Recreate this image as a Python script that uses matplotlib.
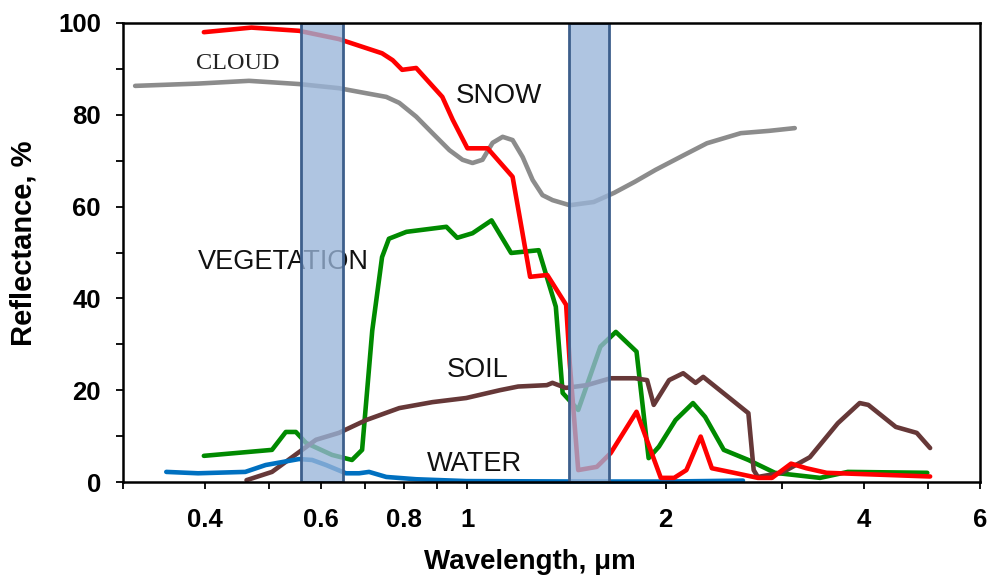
import matplotlib
matplotlib.use("Agg")
import matplotlib.pyplot as plt
from matplotlib.ticker import FixedLocator, NullLocator

# ---------------- data ----------------
cloud_wl = [0.313, 0.39, 0.466, 0.555, 0.638, 0.702, 0.753, 0.788, 0.836, 0.885, 0.939,
            0.983, 1.018, 1.054, 1.092, 1.131, 1.171, 1.213, 1.256, 1.30, 1.347, 1.43,
            1.555, 1.67, 1.795, 1.93, 2.13, 2.31, 2.6, 2.87, 3.14]
cloud_r = [86.3, 86.8, 87.4, 86.7, 85.8, 84.7, 83.9, 82.6, 79.6, 76.0, 72.3,
           70.2, 69.5, 70.2, 73.9, 75.2, 74.5, 70.8, 65.8, 62.5, 61.4, 60.3,
           61.0, 63.0, 65.4, 68.0, 71.2, 73.8, 76.0, 76.5, 77.1]

snow_wl = [0.398, 0.47, 0.555, 0.638, 0.742, 0.77, 0.796, 0.836, 0.916, 0.95, 1.0, 1.073,
           1.171, 1.21, 1.245, 1.322, 1.412, 1.43, 1.473, 1.572, 1.65, 1.806, 1.966,
           2.06, 2.15, 2.26, 2.35, 2.54, 2.76, 2.9, 3.1, 3.27, 3.51, 5.04]
snow_r = [98.0, 99.0, 98.3, 96.5, 93.4, 91.9, 89.8, 90.2, 83.9, 78.9, 72.7, 72.7,
          66.5, 54.9, 44.7, 45.1, 38.6, 25.9, 2.6, 3.3, 6.3, 15.3, 0.9,
          0.9, 2.6, 9.9, 3.0, 2.0, 0.9, 0.9, 4.0, 3.0, 2.0, 1.2]

veg_wl = [0.398, 0.505, 0.53, 0.549, 0.569, 0.623, 0.668, 0.692, 0.717, 0.742, 0.76,
          0.808, 0.929, 0.965, 1.018, 1.088, 1.165, 1.283, 1.362, 1.395, 1.473, 1.592,
          1.68, 1.806, 1.884, 1.953, 2.07, 2.2, 2.295, 2.45, 2.67, 2.93, 3.43, 3.78, 4.99]
veg_r = [5.7, 7.0, 10.9, 10.9, 8.5, 5.9, 4.8, 7.0, 33.0, 49.0, 53.0,
         54.5, 55.6, 53.2, 54.2, 57.0, 49.9, 50.5, 38.2, 19.4, 15.7, 29.5,
         32.7, 28.4, 5.2, 7.7, 13.5, 17.2, 14.2, 7.0, 4.8, 2.0, 0.9, 2.2, 2.0]

soil_wl = [0.462, 0.505, 0.555, 0.589, 0.638, 0.702, 0.788, 0.885, 0.996, 1.12, 1.194,
           1.32, 1.346, 1.41, 1.518, 1.65, 1.796, 1.874, 1.918, 2.024, 2.126, 2.22,
           2.28, 2.52, 2.67, 2.72, 2.76, 3.0, 3.31, 3.65, 3.94, 4.06, 4.47, 4.81, 5.04]
soil_r = [0.4, 2.2, 6.5, 9.2, 10.7, 13.5, 16.1, 17.4, 18.3, 20.0, 20.8,
          21.1, 21.6, 20.5, 21.1, 22.6, 22.6, 22.2, 16.8, 22.2, 23.7, 21.6,
          22.9, 17.9, 15.0, 2.6, 1.1, 2.0, 5.4, 12.8, 17.2, 16.8, 12.0, 10.7, 7.4]

water_wl = [0.349, 0.39, 0.46, 0.494, 0.555, 0.581, 0.61, 0.654, 0.685, 0.709, 0.753,
            0.836, 0.996, 1.5, 2.0, 2.62]
water_r = [2.2, 1.9, 2.2, 3.7, 5.0, 4.8, 3.7, 1.9, 1.9, 2.2, 1.1,
           0.6, 0.2, 0.1, 0.1, 0.3]

bands = [(0.559, 0.647), (1.425, 1.64)]

x_ticks = [0.3, 0.4, 0.5, 0.6, 0.7, 0.8, 0.9, 1, 2, 3, 4, 5, 6]
x_ticklabels = ["", "0.4", "", "0.6", "", "0.8", "", "1", "2", "", "4", "", "6"]
y_ticks = [0, 10, 20, 30, 40, 50, 60, 70, 80, 90, 100]
y_ticklabels = ["0", "", "20", "", "40", "", "60", "", "80", "", "100"]

# ---------------- figure ----------------
W, H = 989, 581
fig = plt.figure(figsize=(W / 100, H / 100), dpi=100)
L, R, T, B = 123, 980, 23, 482
ax = fig.add_axes([L / W, 1 - B / H, (R - L) / W, (B - T) / H])
ax.set_xscale("log")
ax.set_xlim(0.3, 6)
ax.set_ylim(0, 100)

lw = 3.3
common = dict(lw=lw, clip_on=False, solid_joinstyle="round", solid_capstyle="round")
ax.plot(cloud_wl, cloud_r, color="#8c8c8c", zorder=2, **common)
ax.plot(veg_wl, veg_r, color="#008a00", zorder=2, **common)
ax.plot(soil_wl, soil_r, color="#663838", zorder=2, **common)
ax.plot(water_wl, water_r, color="#0070c0", zorder=2, **common)
ax.plot(snow_wl, snow_r, color="#ff0000", zorder=3, **common)

for lo, hi in bands:
    ax.axvspan(lo, hi, ymin=0, ymax=1, facecolor=(0.60, 0.71, 0.85, 0.78),
               edgecolor="#3d5f8c", linewidth=2.0, zorder=5)

sans = ["Liberation Sans", "DejaVu Sans"]
ax.text(0.448, 90.0, "CLOUD", family=["Liberation Serif", "DejaVu Serif"], fontsize=17.5,
        ha="center", va="baseline", color="#222222")
ax.text(1.115, 82.6, "SNOW", family=sans, fontsize=20, ha="center", va="baseline", color="#111111")
ax.text(0.526, 46.4, "VEGETATION", family=sans, fontsize=19.5, ha="center", va="baseline", color="#111111")
ax.text(1.036, 22.9, "SOIL", family=sans, fontsize=19.5, ha="center", va="baseline", color="#111111")
ax.text(1.025, 2.4, "WATER", family=sans, fontsize=19.5, ha="center", va="baseline", color="#111111", zorder=6)

ax.xaxis.set_major_locator(FixedLocator(x_ticks))
ax.xaxis.set_minor_locator(NullLocator())
ax.set_xticklabels(x_ticklabels)
ax.yaxis.set_major_locator(FixedLocator(y_ticks))
ax.set_yticklabels(y_ticklabels)

for lab in ax.get_xticklabels() + ax.get_yticklabels():
    lab.set_family(sans)
    lab.set_fontweight("bold")
    lab.set_fontsize(18.5)

ax.tick_params(axis="both", which="both", direction="out", length=5, width=1.3, color="black")
ax.tick_params(axis="x", pad=14)
ax.tick_params(axis="y", pad=11)

for sp in ax.spines.values():
    sp.set_linewidth(1.8)
    sp.set_color("black")
    sp.set_zorder(6)

fig.text(530 / W, 1 - 562 / H, "Wavelength, \u03bcm", family=sans, fontweight="bold",
         fontsize=20, ha="center", va="center")
fig.text(24 / W, 1 - 243 / H, "Reflectance, %", family=sans, fontweight="bold",
         fontsize=21, ha="center", va="center", rotation=90)

fig.savefig("out.png", dpi=100)
